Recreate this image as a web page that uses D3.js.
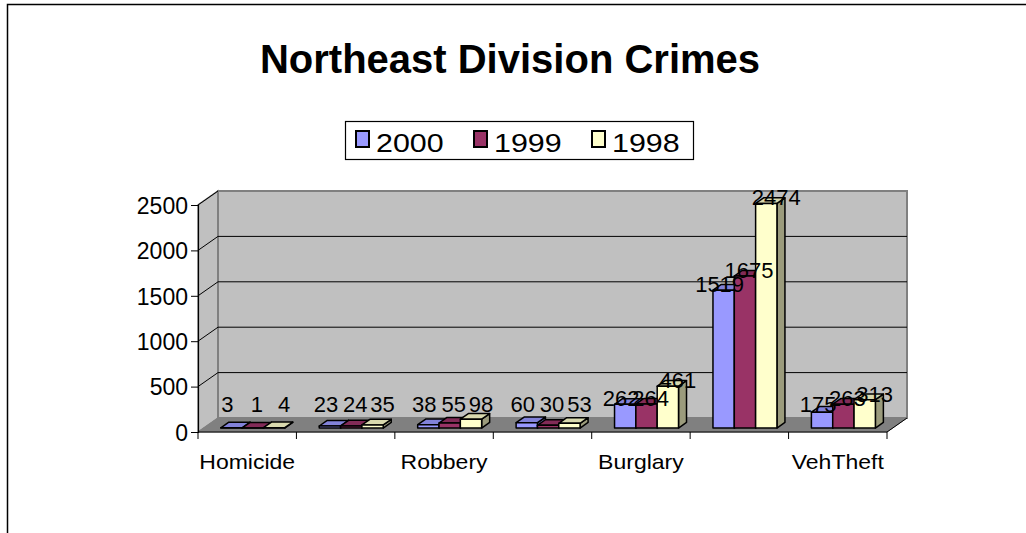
<!DOCTYPE html>
<html>
<head>
<meta charset="utf-8">
<script src="https://cdn.jsdelivr.net/npm/d3@7"></script>
<style>
    html, body { margin: 0; padding: 0; background: #fff; }
    svg { display: block; font-family: Arial, "Liberation Sans", sans-serif; }
</style>
</head>
<body>
<div id="chart"></div>
<script>
// Chart data
const categories = ['Homicide', 'Rape', 'Robbery', 'AggAssault', 'Burglary', 'Larceny', 'VehTheft'];
const seriesNames = ['2000', '1999', '1998'];
const values2000 = [3, 23, 38, 60, 262, 1519, 175];
const values1999 = [1, 24, 55, 30, 264, 1675, 263];
const values1998 = [4, 35, 98, 53, 461, 2474, 313];
const yTicks = [0, 500, 1000, 1500, 2000, 2500];
const seriesColors = ['#9999FF', '#993366', '#FFFFCC'];

const seriesValues = [values2000, values1999, values1998];

const width = 1026;
const height = 533;

// 3D depth offset of the plot box
const DX = 20;
const DY = 14;
const Z0 = 0.28;
const Z1 = 0.68;
// label nudges per series (Excel spreads them sideways)
const labelShift = [-8, 0, 6];

function proj(x, y, z) {
    return [x + z * DX, y - z * DY];
}

function drawChart() {
    const svg = d3.select('#chart')
        .append('svg')
        .attr('width', width)
        .attr('height', height);

    // Outer frame
    svg.append('path')
        .attr('d', 'M7.5,533 V4.5 H1026')
        .attr('fill', 'none')
        .attr('stroke', '#000')
        .attr('stroke-width', 1.5);

    // Title
    svg.append('text')
        .attr('x', 510)
        .attr('y', 73)
        .attr('text-anchor', 'middle')
        .attr('font-size', 40)
        .attr('font-weight', 'bold')
        .text('Northeast Division Crimes');

    const x0 = d3.scaleBand()
        .domain(categories)
        .range([198, 887]);

    const bw = x0.bandwidth();
    const x1 = d3.scaleBand()
        .domain(seriesNames)
        .range([0.175 * bw, 0.825 * bw]);

    const y = d3.scaleLinear()
        .domain([0, 2500])
        .range([432, 205]);

    const xl = x0.range()[0];
    const xr = x0.range()[1];
    const y0 = y(0);
    const yTop = y(2500);

    // Walls and floor
    const walls = svg.append('g');
    walls.append('polygon')
        .attr('points', [[xl, y0], [xl, yTop], proj(xl, yTop, 1), proj(xl, y0, 1)].join(' '))
        .attr('fill', '#c0c0c0')
        .attr('stroke', '#808080')
        .attr('stroke-width', 1.5);
    walls.append('polygon')
        .attr('points', [proj(xl, y0, 1), proj(xl, yTop, 1), proj(xr, yTop, 1), proj(xr, y0, 1)].join(' '))
        .attr('fill', '#c0c0c0')
        .attr('stroke', '#808080')
        .attr('stroke-width', 2);
    walls.append('polygon')
        .attr('points', [[xl, y0], [xr, y0], proj(xr, y0, 1), proj(xl, y0, 1)].join(' '))
        .attr('fill', '#808080')
        .attr('stroke', '#808080')
        .attr('stroke-width', 1);

    // Gridlines on side and back wall
    const grid = svg.append('g')
        .attr('stroke', '#000')
        .attr('stroke-width', 1)
        .attr('fill', 'none');
    yTicks.filter(t => t > 0 && t < 2500).forEach(t => {
        const a = proj(xl, y(t), 1);
        const b = proj(xr, y(t), 1);
        grid.append('path')
            .attr('d', `M${xl},${y(t)} L${a[0]},${a[1]} L${b[0]},${b[1]}`);
    });
    yTicks.filter(t => t === 2500).forEach(t => {
        const a = proj(xl, y(t), 1);
        grid.append('path')
            .attr('d', `M${xl},${y(t)} L${a[0]},${a[1]}`);
    });
    // Right edge of floor
    const fr = proj(xr, y0, 1);
    grid.append('path')
        .attr('d', `M${xr},${y0} L${fr[0]},${fr[1]}`);

    // Y axis
    const yAxis = svg.append('g')
        .attr('transform', `translate(${xl},0)`)
        .call(d3.axisLeft(y).tickValues(yTicks).tickSize(7).tickPadding(3).tickFormat(d3.format('d')));
    yAxis.select('.domain').attr('stroke', '#000').attr('stroke-width', 1.2);
    yAxis.selectAll('.tick line').attr('stroke', '#000');
    yAxis.selectAll('.tick text')
        .attr('font-size', 23)
        .attr('font-family', 'Arial, "Liberation Sans", sans-serif')
        .attr('fill', '#000')
        .attr('dy', '0.36em');

    // X axis
    const xAxis = svg.append('g')
        .attr('transform', `translate(0,${y0})`);
    xAxis.append('line')
        .attr('x1', xl).attr('x2', xr)
        .attr('stroke', '#000').attr('stroke-width', 1.2);
    const bounds = categories.map(c => x0(c)).concat([xr]);
    xAxis.selectAll('.xtick')
        .data(bounds)
        .enter()
        .append('line')
        .attr('x1', d => d).attr('x2', d => d)
        .attr('y1', 0).attr('y2', 7)
        .attr('stroke', '#000');
    xAxis.selectAll('.xlabel')
        .data(categories.filter((c, i) => i % 2 === 0))
        .enter()
        .append('text')
        .attr('transform', d => `translate(${x0(d) + bw / 2},37) scale(1.15,1)`)
        .attr('text-anchor', 'middle')
        .attr('font-size', 20)
        .text(d => d);

    // Bars
    const bars = [];
    categories.forEach((c, ci) => {
        seriesNames.forEach((s, si) => {
            bars.push({cat: c, series: s, si: si, value: seriesValues[si][ci], color: seriesColors[si]});
        });
    });

    const barG = svg.append('g')
        .attr('stroke', '#000')
        .attr('stroke-width', 1.5)
        .attr('stroke-linejoin', 'round');

    bars.forEach(d => {
        const xa = x0(d.cat) + x1(d.series);
        const xb = xa + x1.bandwidth();
        const yb = y(0);
        const yt = y(d.value);
        const base = d3.color(d.color);
        const g = barG.append('g');
        // side face
        g.append('polygon')
            .attr('points', [proj(xb, yb, Z0), proj(xb, yt, Z0), proj(xb, yt, Z1), proj(xb, yb, Z1)].join(' '))
            .attr('fill', base.darker(1.4));
        // top face
        g.append('polygon')
            .attr('points', [proj(xa, yt, Z0), proj(xb, yt, Z0), proj(xb, yt, Z1), proj(xa, yt, Z1)].join(' '))
            .attr('fill', base.darker(0.45));
        // front face
        const f0 = proj(xa, yt, Z0);
        const f1 = proj(xb, yb, Z0);
        g.append('rect')
            .attr('x', f0[0])
            .attr('y', f0[1])
            .attr('width', f1[0] - f0[0])
            .attr('height', Math.max(0, f1[1] - f0[1]))
            .attr('fill', d.color);
    });

    // Data labels
    svg.append('g')
        .selectAll('text')
        .data(bars)
        .enter()
        .append('text')
        .attr('x', d => {
            const xc = x0(d.cat) + x1(d.series) + x1.bandwidth() / 2;
            return proj(xc, 0, (Z0 + Z1) / 2)[0] + labelShift[d.si];
        })
        .attr('y', d => {
            const yt = proj(0, y(d.value), Z0)[1];
            return Math.min(yt - 6, 404) + 8;
        })
        .attr('text-anchor', 'middle')
        .attr('font-size', 22)
        .attr('fill', '#000')
        .text(d => d.value);

    // Legend
    const legend = svg.append('g');
    legend.append('rect')
        .attr('x', 345.5).attr('y', 121.5)
        .attr('width', 348).attr('height', 38)
        .attr('fill', '#fff')
        .attr('stroke', '#000')
        .attr('stroke-width', 1.2);
    const items = legend.selectAll('.item')
        .data(seriesNames)
        .enter()
        .append('g')
        .attr('transform', (d, i) => `translate(${355 + i * 118},0)`);
    items.append('rect')
        .attr('x', 1).attr('y', 131)
        .attr('width', 13).attr('height', 16)
        .attr('fill', (d, i) => seriesColors[i])
        .attr('stroke', '#000')
        .attr('stroke-width', 2);
    items.append('text')
        .attr('transform', 'translate(21,152) scale(1.17,1)')
        .attr('font-size', 26)
        .text(d => d);
}

window.addEventListener('DOMContentLoaded', drawChart);
</script>
</body>
</html>
